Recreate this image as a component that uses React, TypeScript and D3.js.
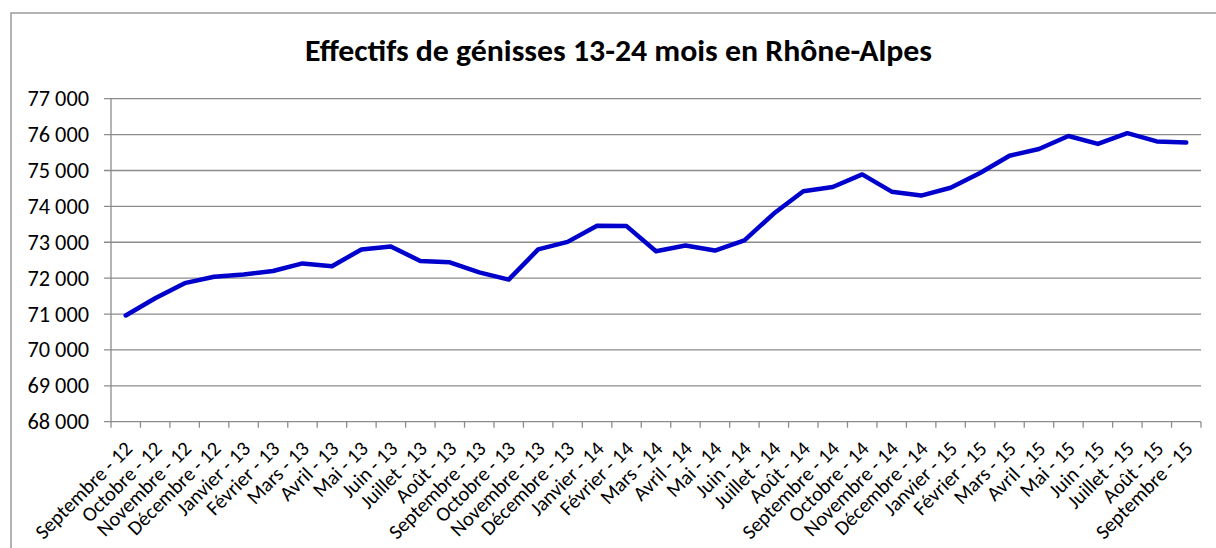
import React from "react";
import * as d3 from "d3";

const months = [
  "Septembre - 12", "Octobre - 12", "Novembre - 12", "Décembre - 12",
  "Janvier - 13", "Février - 13", "Mars - 13", "Avril - 13", "Mai - 13", "Juin - 13",
  "Juillet - 13", "Août - 13", "Septembre - 13", "Octobre - 13", "Novembre - 13", "Décembre - 13",
  "Janvier - 14", "Février - 14", "Mars - 14", "Avril - 14", "Mai - 14", "Juin - 14",
  "Juillet - 14", "Août - 14", "Septembre - 14", "Octobre - 14", "Novembre - 14", "Décembre - 14",
  "Janvier - 15", "Février - 15", "Mars - 15", "Avril - 15", "Mai - 15", "Juin - 15",
  "Juillet - 15", "Août - 15", "Septembre - 15",
];

const effectifs = [
  70960, 71440, 71860, 72040,
  72100, 72200, 72410, 72330, 72800, 72880,
  72480, 72440, 72160, 71960, 72800, 73010,
  73460, 73450, 72750, 72910, 72770, 73050,
  73800, 74420, 74540, 74890, 74410, 74300,
  74520, 74930, 75410, 75600, 75960, 75740,
  76040, 75810, 75780,
];

const yTicks = [68000, 69000, 70000, 71000, 72000, 73000, 74000, 75000, 76000, 77000];

const title = "Effectifs de génisses 13-24 mois en Rhône-Alpes";

const W = 1216;
const H = 548;
const FONT = "Carlito, Lato, 'Liberation Sans', sans-serif";

export default function App() {
  const x = d3.scaleBand<string>().domain(months).range([111, 1201]).padding(0);
  const y = d3.scaleLinear().domain([68000, 77000]).range([421.7, 98.7]);
  const fmt = (v: number) => d3.format(",")(v).replace(/,/g, " ");
  const cx = (m: string) => (x(m) as number) + x.bandwidth() / 2;

  const line = d3
    .line<number>()
    .x((_, i) => cx(months[i]))
    .y((d) => y(d));

  const tickXs = months.map((m) => x(m) as number).concat([1201]);

  return (
    <svg
      width={W}
      height={H}
      style={{ position: "absolute", left: 0, top: 0, background: "#fff" }}
      fontFamily={FONT}
    >
      <rect x={0} y={0} width={W} height={H} fill="#fff" />
      {/* chart frame */}
      <rect x={11} y={13} width={W + 20} height={H + 20} fill="none" stroke="#9a9a9a" strokeWidth={1.5} />

      <text x={618.5} y={61} textAnchor="middle" fontSize={31} fontWeight="bold" fill="#000"
        textLength={627} lengthAdjust="spacingAndGlyphs">
        {title}
      </text>

      {/* gridlines */}
      {yTicks.map((t) => (
        <g key={t}>
          <line x1={104} x2={1201} y1={y(t)} y2={y(t)} stroke="#8c8c8c" strokeWidth={1.3} />
          <text x={89} y={y(t)} textAnchor="end" dominantBaseline="central" fontSize={22.3} fill="#000">
            {fmt(t)}
          </text>
        </g>
      ))}

      {/* y axis */}
      <line x1={111} x2={111} y1={y(77000)} y2={y(68000)} stroke="#8c8c8c" strokeWidth={1.3} />
      {/* x ticks */}
      {tickXs.map((tx, i) => (
        <line key={i} x1={tx} x2={tx} y1={y(68000)} y2={y(68000) + 6} stroke="#8c8c8c" strokeWidth={1.3} />
      ))}

      {/* x labels */}
      {months.map((m) => (
        <text
          key={m}
          transform={`translate(${cx(m) + 3},${445}) rotate(-45)`}
          textAnchor="end"
          dominantBaseline="central"
          fontSize={20.5}
          fill="#000"
        >
          {m}
        </text>
      ))}

      <path d={line(effectifs) as string} fill="none" stroke="#0000CC" strokeWidth={4.5}
        strokeLinejoin="round" strokeLinecap="round" />
    </svg>
  );
}
